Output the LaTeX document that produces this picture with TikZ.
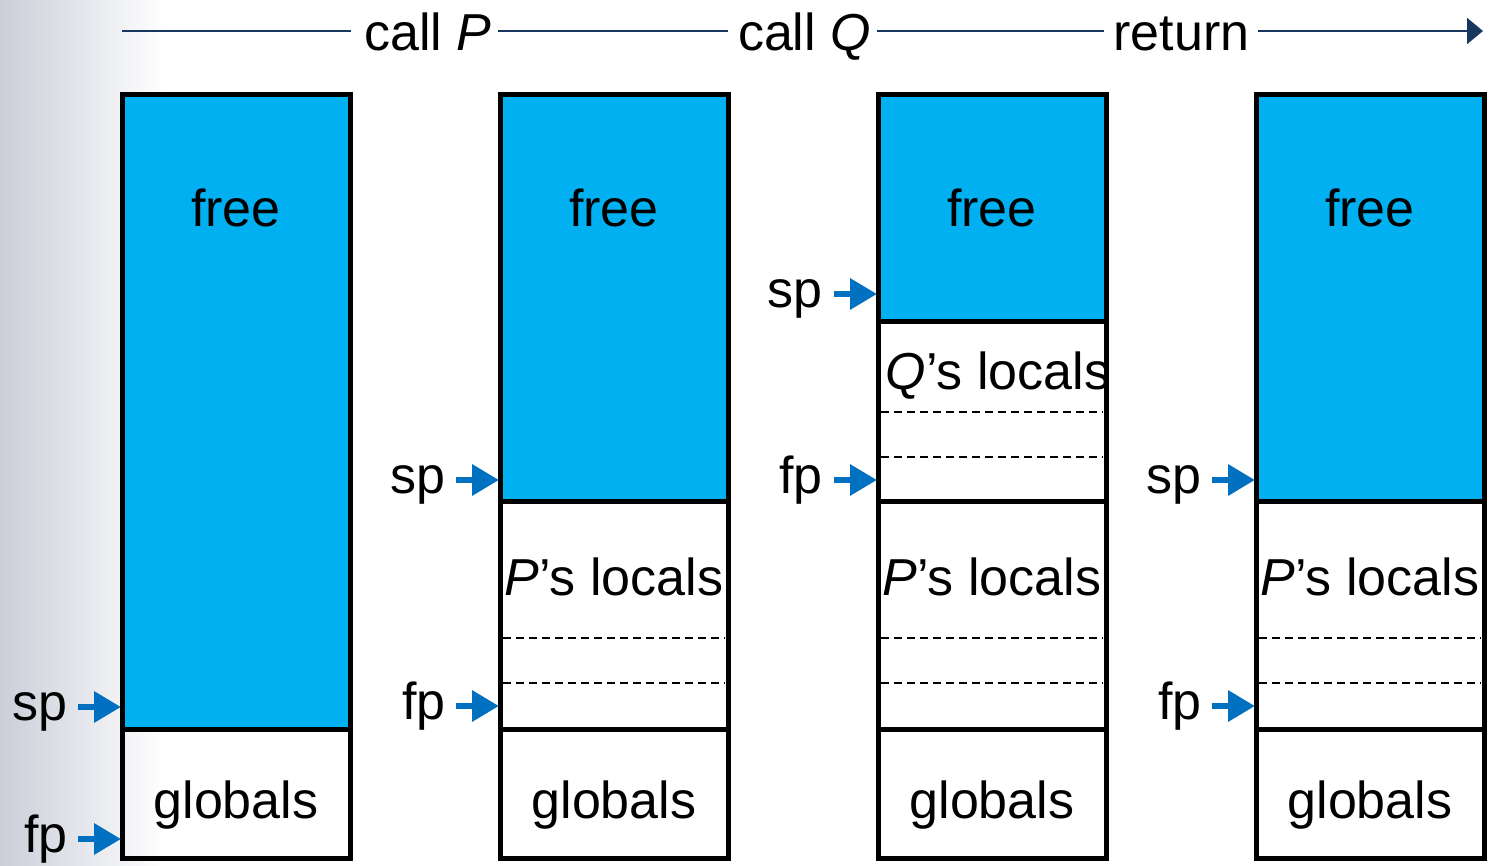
\documentclass[tikz,border=0pt]{standalone}
\usepackage{fontspec}
\setmainfont{Liberation Sans}
\usetikzlibrary{arrows.meta}
\definecolor{freeblue}{RGB}{0,176,240}
\definecolor{ptrblue}{RGB}{0,112,192}
\definecolor{navy}{RGB}{23,55,94}
\definecolor{bggrey}{RGB}{203,206,216}
\begin{document}
\begin{tikzpicture}[x=1pt,y=-1pt,
 cell/.style={draw=black,line width=5pt,anchor=north west,minimum width=228pt,inner sep=0pt,outer sep=0pt},
 freecell/.style={cell,fill=freeblue},
 lbl/.style={font=\fontsize{52}{60}\selectfont,inner sep=0pt,anchor=base},
 ptrlbl/.style={lbl,anchor=base east},
 ptr/.style={draw=ptrblue,line width=6.5pt,-{Triangle[length=27pt,width=30pt]}},
 sepline/.style={dash pattern=on 8pt off 5pt,line width=1.5pt},
 tl/.style={draw=navy,line width=2pt}]
\useasboundingbox (0,0) rectangle (1495,865);
\shade[left color=bggrey,right color=white] (0,0) rectangle (165,865);

% timeline
\coordinate (t0) at (122,31);
\coordinate (t1) at (1483,31);
\node[lbl] (cP) at (428,50) {call \textit{P}};
\node[lbl] (cQ) at (804.5,50) {call \textit{Q}};
\node[lbl] (ret) at (1181.5,50) {return};
\draw[tl] (t0) -- ([xshift=-13pt]cP.west |- t0);
\draw[tl] ([xshift=6pt]cP.east |- t0) -- ([xshift=-10pt]cQ.west |- t0);
\draw[tl] ([xshift=6pt]cQ.east |- t0) -- ([xshift=-9pt]ret.west |- t0);
\draw[tl,-{Triangle[length=16pt,width=26pt]}] ([xshift=8pt]ret.east |- t0) -- (t1);

% column 1
\node[freecell,minimum height=635pt] (free1) at (122,94) {};
\node[cell,minimum height=129pt] (glob1) at (122,729) {};
\node[lbl] (tfree1) at (236,226) {free};
\node[lbl] (tglob1) at (236,818) {globals};
\node[ptrlbl] (sp1) at (68,720) {sp};
\coordinate (sp1a) at (78,707); \coordinate (sp1b) at (121,707);
\draw[ptr] (sp1a) -- (sp1b);
\node[ptrlbl] (fp1) at (68,852) {fp};
\coordinate (fp1a) at (78,839); \coordinate (fp1b) at (121,839);
\draw[ptr] (fp1a) -- (fp1b);

% column 2
\node[freecell,minimum height=407pt] (free2) at (500,94) {};
\node[cell,minimum height=228pt] (ploc2) at (500,501) {};
\node[cell,minimum height=129pt] (glob2) at (500,729) {};
\node[lbl] (tfree2) at (614,226) {free};
\node[lbl] (tploc2) at (614,595) {\textit{P}’s locals};
\node[lbl] (tglob2) at (614,818) {globals};
\draw[sepline] (503,638) -- (725,638);
\draw[sepline] (503,683) -- (725,683);
\node[ptrlbl] (sp2) at (446,493) {sp};
\coordinate (sp2a) at (456,480); \coordinate (sp2b) at (499,480);
\draw[ptr] (sp2a) -- (sp2b);
\node[ptrlbl] (fp2) at (446,719) {fp};
\coordinate (fp2a) at (456,706); \coordinate (fp2b) at (499,706);
\draw[ptr] (fp2a) -- (fp2b);

% column 3
\node[freecell,minimum height=227pt] (free3) at (878,94) {};
\node[cell,minimum height=180pt] (qloc3) at (878,321) {};
\node[cell,minimum height=228pt] (ploc3) at (878,501) {};
\node[cell,minimum height=129pt] (glob3) at (878,729) {};
\node[lbl] (tfree3) at (992,226) {free};
\node[lbl] (tqloc3) at (998,389) {\textit{Q}’s locals};
\node[lbl] (tploc3) at (992,595) {\textit{P}’s locals};
\node[lbl] (tglob3) at (992,818) {globals};
\draw[sepline] (881,412) -- (1103,412);
\draw[sepline] (881,457) -- (1103,457);
\draw[sepline] (881,638) -- (1103,638);
\draw[sepline] (881,683) -- (1103,683);
\node[ptrlbl] (sp3) at (823,307) {sp};
\coordinate (sp3a) at (834,294); \coordinate (sp3b) at (877,294);
\draw[ptr] (sp3a) -- (sp3b);
\node[ptrlbl] (fp3) at (823,493) {fp};
\coordinate (fp3a) at (834,480); \coordinate (fp3b) at (877,480);
\draw[ptr] (fp3a) -- (fp3b);

% column 4
\node[freecell,minimum height=407pt] (free4) at (1256,94) {};
\node[cell,minimum height=228pt] (ploc4) at (1256,501) {};
\node[cell,minimum height=129pt] (glob4) at (1256,729) {};
\node[lbl] (tfree4) at (1370,226) {free};
\node[lbl] (tploc4) at (1370,595) {\textit{P}’s locals};
\node[lbl] (tglob4) at (1370,818) {globals};
\draw[sepline] (1259,638) -- (1481,638);
\draw[sepline] (1259,683) -- (1481,683);
\node[ptrlbl] (sp4) at (1202,493) {sp};
\coordinate (sp4a) at (1212,480); \coordinate (sp4b) at (1255,480);
\draw[ptr] (sp4a) -- (sp4b);
\node[ptrlbl] (fp4) at (1202,719) {fp};
\coordinate (fp4a) at (1212,706); \coordinate (fp4b) at (1255,706);
\draw[ptr] (fp4a) -- (fp4b);
\end{tikzpicture}
\end{document}
